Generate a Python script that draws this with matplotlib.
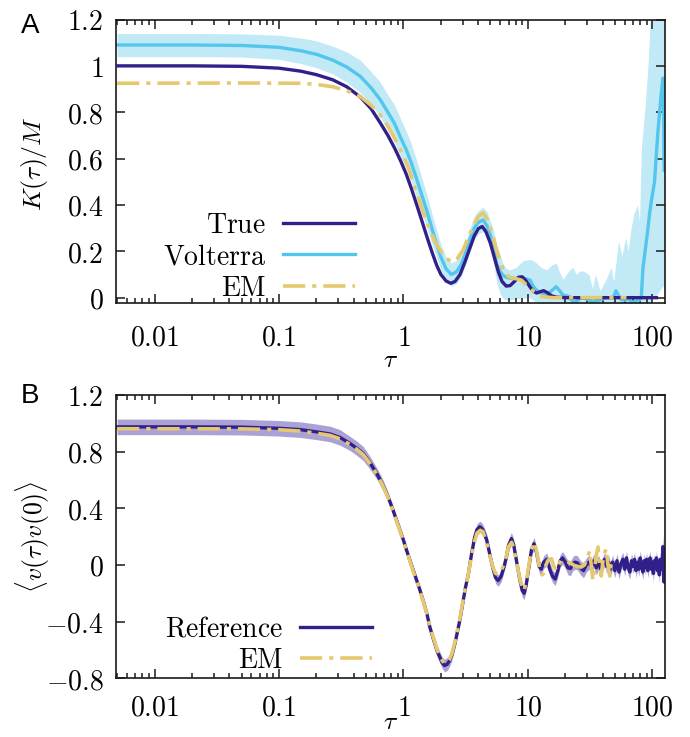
import numpy as np
import matplotlib
matplotlib.use("Agg")
import matplotlib.pyplot as plt
from matplotlib.ticker import FixedLocator, FixedFormatter, LogLocator, NullFormatter

plt.rcParams['mathtext.fontset'] = 'cm'
plt.rcParams['lines.scale_dashes'] = False

# ---------------- Panel A data ----------------
true_x = [0.005, 0.01, 0.02, 0.05, 0.1, 0.15, 0.2, 0.27, 0.35, 0.45, 0.55, 0.65, 0.75, 0.85, 0.95,
          1.05, 1.16, 1.28, 1.40, 1.55, 1.70, 1.85, 2.0, 2.2, 2.4, 2.6, 2.85, 3.1, 3.4, 3.7, 4.0,
          4.3, 4.6, 5.0, 5.4, 5.8, 6.2, 6.7, 7.2, 7.8, 8.4, 9.0, 9.6, 10.3, 11.0, 11.8, 12.6, 13.4,
          14.3, 15.5, 17, 20, 108]
true_y = [1.000, 1.000, 1.000, 0.998, 0.99, 0.977, 0.962, 0.94, 0.91, 0.866, 0.815, 0.755, 0.70, 0.645, 0.59,
          0.535, 0.47, 0.40, 0.335, 0.26, 0.195, 0.14, 0.10, 0.072, 0.062, 0.07, 0.10, 0.15, 0.21, 0.265, 0.298,
          0.307, 0.285, 0.235, 0.17, 0.11, 0.07, 0.05, 0.052, 0.07, 0.088, 0.09, 0.075, 0.05, 0.028, 0.02, 0.026, 0.03,
          0.022, 0.008, 0.002, 0.0, 0.0]

em_a_x = [0.005, 0.05, 0.15, 0.2, 0.27, 0.35, 0.45, 0.55, 0.65, 0.75, 0.88, 1.0, 1.1, 1.28, 1.45, 1.63,
          1.8, 1.96, 2.2, 2.44, 2.7, 3.02, 3.3, 3.63, 4.0, 4.35, 4.7, 5.26, 5.6, 5.96, 6.3, 6.7, 7.2,
          7.6, 8.3, 8.9, 9.6, 10.4, 11.2, 12.1, 13.0, 14.2, 16, 62]
em_a_y = [0.925, 0.926, 0.925, 0.92, 0.91, 0.893, 0.868, 0.83, 0.789, 0.74, 0.673, 0.61, 0.56, 0.45, 0.365, 0.292,
          0.24, 0.206, 0.17, 0.155, 0.168, 0.206, 0.258, 0.306, 0.35, 0.365, 0.34, 0.263, 0.205, 0.163, 0.125, 0.098, 0.088,
          0.084, 0.08, 0.075, 0.058, 0.04, 0.025, 0.012, 0.005, 0.002, 0.0, 0.0]

volt_x = [0.005, 0.02, 0.05, 0.1, 0.15, 0.2, 0.27, 0.35, 0.45, 0.55, 0.65, 0.75, 0.85, 0.95, 1.05, 1.16,
          1.28, 1.40, 1.55, 1.70, 1.85, 2.0, 2.2, 2.42, 2.65, 2.9, 3.15, 3.42, 3.7, 4.0, 4.37, 4.7,
          5.0, 5.3, 5.6, 5.95, 6.27, 6.7, 7.2, 8.0, 9.2, 10.4, 11.0, 11.7, 12.8, 14.2, 15.5, 16.9,
          18, 19.1, 21.7, 23, 24.5, 26, 28, 31, 33, 35, 38, 42.6, 46.5, 49, 51, 53.5, 57, 61, 64,
          67, 71, 76, 79, 81.6, 84.1, 88, 92.3, 95, 98.1, 104.2, 110.9, 114.5, 118, 121.7, 123, 124.5]
volt_y = [1.09, 1.09, 1.088, 1.08, 1.065, 1.05, 1.025, 0.995, 0.955, 0.905, 0.855, 0.80, 0.75, 0.69, 0.64, 0.58,
          0.51, 0.445, 0.37, 0.295, 0.23, 0.175, 0.125, 0.10, 0.11, 0.141, 0.19, 0.249, 0.30, 0.325, 0.335, 0.31,
          0.27, 0.22, 0.148, 0.115, 0.098, 0.088, 0.084, 0.082, 0.084, 0.076, 0.05, 0.033, 0.02, 0.012, 0.03, 0.047,
          0.03, 0.012, 0.004, -0.018, -0.017, -0.005, 0.0, -0.01, -0.02, -0.015, -0.01, 0.0, 0.0, 0.005, 0.03, 0.01, -0.01, -0.01, -0.005,
          -0.015, -0.02, -0.01, -0.01, 0.0, 0.128, 0.21, 0.30, 0.36, 0.414, 0.50, 0.716, 0.80, 0.88, 0.947, 0.85, 0.55]
volt_lo = [1.04, 1.04, 1.038, 1.028, 1.01, 0.992, 0.965, 0.93, 0.885, 0.835, 0.78, 0.725, 0.67, 0.61, 0.56, 0.50,
           0.43, 0.37, 0.30, 0.23, 0.17, 0.12, 0.075, 0.05, 0.06, 0.09, 0.14, 0.20, 0.25, 0.275, 0.285, 0.255,
           0.21, 0.15, 0.07, 0.02, 0.0, -0.01, -0.01, -0.005, 0.0, 0.0, -0.01, -0.02, -0.03, -0.03, -0.03, -0.03,
           -0.03, -0.03, -0.04, -0.05, -0.05, -0.05, -0.05, -0.05, -0.05, -0.05, -0.05, -0.05, -0.05, -0.05, -0.05, -0.05, -0.05, -0.05, -0.05,
           -0.05, -0.05, -0.05, -0.05, -0.05, -0.05, -0.05, -0.04, -0.03, 0.0, 0.0, 0.02, 0.03, 0.04, 0.05, 0.05, 0.05]
volt_hi = [1.14, 1.14, 1.138, 1.132, 1.12, 1.108, 1.085, 1.06, 1.025, 0.975, 0.93, 0.875, 0.83, 0.77, 0.72, 0.66,
           0.59, 0.52, 0.44, 0.36, 0.29, 0.23, 0.175, 0.15, 0.16, 0.19, 0.24, 0.30, 0.35, 0.375, 0.39, 0.37,
           0.33, 0.29, 0.23, 0.19, 0.15, 0.125, 0.12, 0.13, 0.16, 0.165, 0.16, 0.15, 0.13, 0.12, 0.14, 0.15,
           0.11, 0.08, 0.12, 0.13, 0.10, 0.115, 0.115, 0.10, 0.04, 0.10, 0.03, 0.08, 0.13, 0.07, 0.15, 0.245, 0.18, 0.26, 0.20,
           0.29, 0.36, 0.40, 0.33, 0.64, 0.72, 0.84, 1.0, 1.13, 1.3, 1.3, 1.3, 1.3, 1.3, 1.3, 1.3, 1.3]

# ---------------- Panel B data ----------------
ref_x = [0.005, 0.02, 0.05, 0.1, 0.15, 0.2, 0.257, 0.31, 0.372, 0.42, 0.474, 0.54, 0.61, 0.67, 0.733, 0.78,
         0.83, 0.88, 0.94, 1.0, 1.06, 1.13, 1.2, 1.28, 1.36, 1.45, 1.55, 1.63, 1.75, 1.87, 1.96, 2.05,
         2.14, 2.25, 2.35, 2.44, 2.6, 2.75, 2.84, 3.0, 3.15, 3.33, 3.5, 3.74, 3.9, 4.11, 4.3, 4.5,
         4.66, 4.9, 5.1, 5.26, 5.5, 5.77, 6.1, 6.4, 6.7, 7.0, 7.38, 7.7, 8.1, 8.6, 9.0, 9.33,
         9.7, 10.2, 10.7, 11.2, 11.8, 12.3, 12.8, 13.4, 14.2, 15.0, 15.8, 16.6, 17.4, 18.2, 19.0, 20.0,
         21, 22, 23, 24, 25, 26.5, 28, 29.5, 31, 32.5, 34, 35.5, 37, 38.5, 40, 41.5, 43, 44.5, 46,
         48, 50, 52, 54, 56, 58, 60, 62, 64, 66, 68, 70, 72, 74, 76, 78, 80, 82, 84, 86, 88, 90, 92,
         94, 96, 98, 100, 102, 104, 106, 108, 110, 112, 114, 116, 118, 120, 122, 124, 126]
ref_y = [0.975, 0.975, 0.973, 0.965, 0.955, 0.94, 0.925, 0.9, 0.858, 0.825, 0.788, 0.72, 0.646, 0.58, 0.505, 0.445,
         0.38, 0.316, 0.245, 0.175, 0.103, 0.03, -0.04, -0.11, -0.18, -0.26, -0.35, -0.439, -0.53, -0.61, -0.651, -0.69,
         -0.71, -0.70, -0.675, -0.64, -0.55, -0.45, -0.39, -0.27, -0.16, -0.062, 0.06, 0.198, 0.25, 0.27, 0.255, 0.215,
         0.18, 0.09, 0.02, -0.03, -0.09, -0.11, -0.08, -0.02, 0.05, 0.14, 0.186, 0.14, 0.03, -0.1, -0.18, -0.2,
         -0.14, -0.01, 0.11, 0.15, 0.08, -0.01, -0.03, 0.02, 0.04, -0.03, -0.08, -0.1, -0.04, 0.03, 0.05, 0.02,
         -0.02, -0.025, 0.01, 0.02, 0.015, -0.02, -0.04, 0.0, 0.02, -0.01, 0.03, -0.02, 0.02, -0.03, 0.01, 0.04, -0.01, 0.02, -0.03,
         0.02, -0.04, 0.03, -0.05, 0.01, 0.04, -0.03, 0.05, -0.02, -0.05, 0.03, -0.01, 0.04, -0.04, 0.02, -0.03, 0.05, -0.01, -0.05, 0.03, -0.02, 0.04, -0.04,
         0.01, 0.05, -0.03, 0.02, -0.06, 0.03, -0.02, 0.05, -0.04, 0.01, -0.07, 0.04, -0.03, 0.02, 0.13, -0.12, 0.08]
ref_err = [0.055, 0.055, 0.055, 0.055, 0.055, 0.055, 0.055, 0.055, 0.05, 0.05, 0.05, 0.045, 0.04, 0.04, 0.035, 0.03,
           0.03, 0.03, 0.03, 0.03, 0.03, 0.03, 0.03, 0.03, 0.03, 0.03, 0.03, 0.03, 0.035, 0.04, 0.04, 0.04,
           0.045, 0.045, 0.04, 0.04, 0.035, 0.03, 0.03, 0.03, 0.03, 0.03, 0.03, 0.035, 0.04, 0.04, 0.04, 0.04,
           0.04, 0.035, 0.035, 0.035, 0.04, 0.04, 0.04, 0.035, 0.035, 0.04, 0.045, 0.04, 0.04, 0.04, 0.045, 0.045,
           0.045, 0.04, 0.04, 0.045, 0.045, 0.045, 0.045, 0.045, 0.045, 0.045, 0.045, 0.045, 0.045, 0.045, 0.045, 0.045,
           0.05, 0.05, 0.05, 0.05, 0.05, 0.05, 0.05, 0.05, 0.05, 0.05, 0.05, 0.05, 0.05, 0.05, 0.05, 0.05, 0.05, 0.05, 0.05,
           0.05, 0.05, 0.05, 0.05, 0.05, 0.05, 0.05, 0.05, 0.05, 0.05, 0.05, 0.05, 0.05, 0.05, 0.05, 0.05, 0.05, 0.05, 0.05, 0.05, 0.05, 0.05, 0.05,
           0.05, 0.05, 0.05, 0.05, 0.06, 0.05, 0.05, 0.05, 0.05, 0.05, 0.06, 0.05, 0.05, 0.06, 0.08, 0.08, 0.07]

em_b_x = [0.005, 0.05, 0.1, 0.15, 0.2, 0.257, 0.31, 0.372, 0.42, 0.474, 0.54, 0.61, 0.67, 0.733, 0.78, 0.83,
          0.88, 0.94, 1.0, 1.06, 1.13, 1.2, 1.28, 1.36, 1.45, 1.55, 1.63, 1.75, 1.87, 1.96, 2.05, 2.14,
          2.25, 2.35, 2.44, 2.6, 2.75, 2.84, 3.0, 3.15, 3.33, 3.5, 3.74, 3.9, 4.15, 4.35, 4.5, 4.66,
          4.9, 5.1, 5.26, 5.5, 5.8, 6.1, 6.4, 6.7, 7.0, 7.4, 7.7, 8.1, 8.6, 9.0, 9.33, 9.7,
          10.2, 10.7, 11.3, 11.8, 12.4, 13.0, 13.4, 14.0, 14.5, 15.0, 15.5, 16.0, 16.9, 17.6, 18.5, 19.5,
          21, 22.3, 23.7, 25, 26.8, 28.5, 30, 31.4, 32.3, 33.3, 34.5, 35.5, 36.6, 37.8, 38.9, 40,
          41.5, 42.7, 44, 45.5, 46.6, 47.8]
em_b_y = [0.962, 0.961, 0.955, 0.945, 0.93, 0.915, 0.89, 0.85, 0.818, 0.78, 0.715, 0.64, 0.575, 0.50, 0.44, 0.375,
          0.31, 0.24, 0.17, 0.10, 0.025, -0.045, -0.115, -0.185, -0.265, -0.35, -0.43, -0.52, -0.60, -0.64, -0.675, -0.695,
          -0.69, -0.665, -0.63, -0.54, -0.44, -0.38, -0.26, -0.16, -0.06, 0.05, 0.17, 0.225, 0.245, 0.235, 0.20, 0.16,
          0.08, 0.02, -0.02, -0.06, -0.065, -0.04, 0.0, 0.06, 0.13, 0.16, 0.12, 0.02, -0.09, -0.16, -0.18, -0.12,
          0.0, 0.11, 0.162, 0.09, -0.02, -0.07, -0.06, 0.0, 0.033, 0.04, 0.044, 0.0, -0.037, 0.0, 0.033, 0.03,
          0.021, 0.01, -0.004, -0.01, -0.015, 0.0, 0.05, 0.1, 0.0, -0.11, -0.02, 0.07, 0.127, 0.0, -0.078, 0.02,
          0.09, 0.115, 0.0, -0.078, 0.0, 0.033]

# ---------------- styling ----------------
C_DARK = '#32208a'
C_BLUE = '#52c6ec'
C_BLUE_BAND = '#c2e9f6'
C_YEL = '#e6c86f'
C_LAV = '#aaa2d4'
FS = 20
FS_LAB = 18.5
EM_DASH = (0, (16, 5, 3, 5))

fig = plt.figure(figsize=(6.9, 7.37), dpi=100)
axA = fig.add_axes([116/690, 1-303/737, 549/690, 283.5/737])
axB = fig.add_axes([116/690, 1-678.3/737, 549/690, 283.3/737])


def style_axis(ax, yticks, ylabels, xpad):
    ax.set_xscale('log')
    ax.set_xlim(0.0049, 126.5)
    ax.xaxis.set_major_locator(FixedLocator([0.01, 0.1, 1, 10, 100]))
    ax.xaxis.set_major_formatter(FixedFormatter([r'$0.01$', r'$0.1$', r'$1$', r'$10$', r'$100$']))
    ax.xaxis.set_minor_locator(LogLocator(base=10, subs=np.arange(2, 10), numticks=20))
    ax.xaxis.set_minor_formatter(NullFormatter())
    ax.yaxis.set_major_locator(FixedLocator(yticks))
    ax.yaxis.set_major_formatter(FixedFormatter(ylabels))
    ax.tick_params(which='both', direction='in', top=True, right=True, color='#1a1a1a', width=1.1)
    ax.tick_params(which='major', length=6.5)
    ax.tick_params(which='minor', length=3.3)
    ax.tick_params(axis='x', which='major', pad=xpad, labelsize=FS)
    ax.tick_params(axis='y', which='major', pad=9, labelsize=FS)
    for s in ax.spines.values():
        s.set_linewidth(1.2)
        s.set_color('#1a1a1a')


# ---- Panel A ----
axA.fill_between(volt_x, volt_lo, volt_hi, color=C_BLUE_BAND, lw=0, zorder=1)
axA.plot(volt_x, volt_y, color=C_BLUE, lw=2.4, zorder=2, label=r'$\mathrm{Volterra}$')
axA.plot(true_x, true_y, color=C_DARK, lw=2.4, zorder=3, label=r'$\mathrm{True}$')
axA.plot(em_a_x, em_a_y, color=C_YEL, lw=2.6, ls=EM_DASH, zorder=4, label=r'$\mathrm{EM}$')
axA.set_ylim(-0.023, 1.2)
style_axis(axA, [0, 0.2, 0.4, 0.6, 0.8, 1.0, 1.2],
           [r'$0$', r'$0.2$', r'$0.4$', r'$0.6$', r'$0.8$', r'$1$', r'$1.2$'], 15)
hA, lA = axA.get_legend_handles_labels()
orderA = [1, 0, 2]
axA.legend([hA[i] for i in orderA], [lA[i] for i in orderA], loc='upper right',
           bbox_to_anchor=(0.435, 0.325), frameon=False, markerfirst=False, fontsize=FS,
           handlelength=2.6, handletextpad=0.6, labelspacing=0.12, borderpad=0, borderaxespad=0)

# ---- Panel B ----
ref_lo = np.array(ref_y) - np.array(ref_err)
ref_hi = np.array(ref_y) + np.array(ref_err)
axB.fill_between(ref_x, ref_lo, ref_hi, color=C_LAV, lw=0, zorder=1)
axB.plot(ref_x, ref_y, color=C_DARK, lw=2.4, zorder=2, label=r'$\mathrm{Reference}$')
axB.plot(em_b_x, em_b_y, color=C_YEL, lw=2.6, ls=EM_DASH, zorder=3, label=r'$\mathrm{EM}$')
axB.set_ylim(-0.8, 1.2)
style_axis(axB, [-0.8, -0.4, 0, 0.4, 0.8, 1.2],
           [r'$-0.8$', r'$-0.4$', r'$0$', r'$0.4$', r'$0.8$', r'$1.2$'], 11)
axB.legend(loc='upper right', bbox_to_anchor=(0.466, 0.225), frameon=False, markerfirst=False,
           fontsize=FS, handlelength=2.6, handletextpad=0.6, labelspacing=0.12, borderpad=0,
           borderaxespad=0)

# ---- labels ----
fig.text(34/690, 1-164/737, r'$K(\tau)/M$', rotation=90, ha='center', va='center', fontsize=FS_LAB)
fig.text(33/690, 1-537/737, r'$\langle v(\tau)v(0)\rangle$', rotation=90, ha='center', va='center', fontsize=FS_LAB)
fig.text(391/690, 1-367/737, r'$\tau$', ha='center', va='baseline', fontsize=FS_LAB)
fig.text(391/690, 1-729/737, r'$\tau$', ha='center', va='baseline', fontsize=FS_LAB)
fig.text(21/690, 1-13/737, 'A', ha='left', va='top', fontsize=20, family='Liberation Sans')
fig.text(21/690, 1-383/737, 'B', ha='left', va='top', fontsize=20, family='Liberation Sans')

fig.savefig('out.png', dpi=100)
